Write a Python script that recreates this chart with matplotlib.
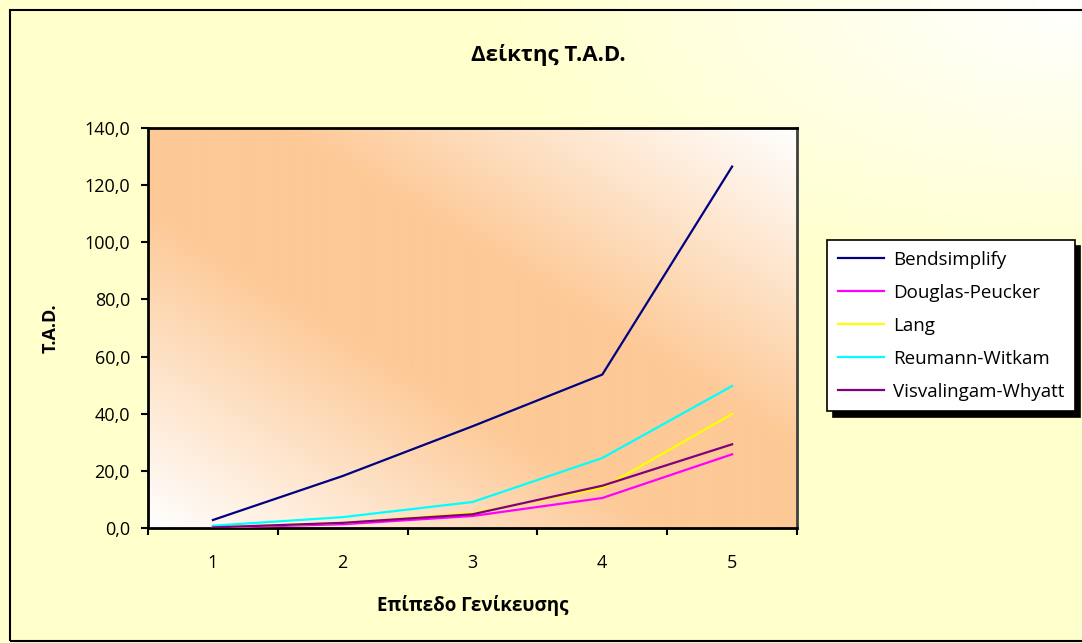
import numpy as np
import matplotlib
matplotlib.use("Agg")
import matplotlib.pyplot as plt
from matplotlib.patches import Rectangle

plt.rcParams['font.family'] = ['Open Sans', 'DejaVu Sans']

# ---- data ----
levels = [1, 2, 3, 4, 5]
bendsimplify = [2.8, 18.2, 35.6, 53.7, 126.5]
douglas_peucker = [0.1, 1.3, 4.2, 10.5, 25.8]
lang = [0.2, 1.8, 5.2, 14.0, 39.9]
reumann_witkam = [0.8, 3.8, 9.1, 24.5, 49.7]
visvalingam_whyatt = [0.2, 1.8, 4.8, 14.8, 29.3]

series_names = ["Bendsimplify", "Douglas-Peucker", "Lang",
                "Reumann-Witkam", "Visvalingam-Whyatt"]
series_values = [bendsimplify, douglas_peucker, lang,
                 reumann_witkam, visvalingam_whyatt]
series_colors = ["#000080", "#FF00FF", "#FFFF00", "#00FFFF", "#800080"]

title = "Δείκτης T.A.D."
xlabel = "Επίπεδο Γενίκευσης"
ylabel = "T.A.D."
yticks = [0, 20, 40, 60, 80, 100, 120, 140]

W, H = 1082, 643
fig = plt.figure(figsize=(W / 100, H / 100), dpi=100)

# ---- outer background gradient ----
bg = fig.add_axes([0, 0, 1, 1], zorder=-10)
bg.set_axis_off()
yy, xx = np.mgrid[0:H:2, 0:W:2]
u = xx / W
vt = yy / H
d = np.sqrt(((1.0 - u) / 0.55) ** 2 + (vt / 0.45) ** 2)
t = np.clip(d, 0, 1)[..., None]
yellow = np.array([255, 255, 204]) / 255.0
white = np.array([1.0, 1.0, 1.0])
img = white * (1 - t) + yellow * t
bg.imshow(img, extent=(0, 1, 0, 1), aspect='auto', origin='upper')
bg.set_xlim(0, 1)
bg.set_ylim(0, 1)
bg.add_patch(Rectangle((10 / W, 2 / H), 1.2, 1 - 12 / H, fill=False,
                       edgecolor='black', linewidth=1.5,
                       transform=bg.transAxes))

# ---- plot area ----
left, right = 148 / W, 797 / W
bottom, top = 1 - 528 / H, 1 - 128 / H
ax = fig.add_axes([left, bottom, right - left, top - bottom])
ax.set_facecolor('none')

gy, gx = np.mgrid[0:1:200j, 0:1:300j]
s = gx + gy
strength = np.clip((1 - np.abs(s - 1)) * 1.25, 0, 1)[..., None]
orange = np.array([253, 201, 150]) / 255.0
pimg = white * (1 - strength) + orange * strength
ax.imshow(pimg, extent=(0, 1, 0, 1), aspect='auto', origin='lower',
          transform=ax.transAxes, zorder=0)

for name, vals, col in zip(series_names, series_values, series_colors):
    ax.plot(levels, vals, color=col, linewidth=1.6, label=name, zorder=3,
            solid_joinstyle='round')

ax.set_xlim(0.5, 5.5)
ax.set_ylim(0, 140)
ax.set_yticks(yticks)
ax.set_yticklabels([f"{v:.1f}".replace('.', ',') for v in yticks])
ax.set_xticks(np.arange(0.5, 6.0, 1.0))
ax.set_xticklabels([])
ax.set_xticks(levels, minor=True)
ax.set_xticklabels([str(v) for v in levels], minor=True)
ax.tick_params(axis='x', which='major', direction='out', length=5, width=1.5)
ax.tick_params(axis='x', which='minor', length=0, pad=19, labelsize=13)
ax.tick_params(axis='y', direction='out', length=5, width=1.5, labelsize=13,
               pad=8)

for sp in ['left', 'bottom', 'top']:
    ax.spines[sp].set_linewidth(2)
    ax.spines[sp].set_color('black')
ax.spines['right'].set_linewidth(2)
ax.spines['right'].set_color('#404040')

ax.set_xlabel(xlabel, fontsize=13.5, fontweight='bold', labelpad=16)
ax.set_ylabel(ylabel, fontsize=13, fontweight='bold', labelpad=18)

fig.text(548 / W, 1 - 55 / H, title, fontsize=16, fontweight='bold',
         ha='center', va='center')

leg = fig.legend(loc='upper left', bbox_to_anchor=(818 / W, 1 - 231 / H),
                 fontsize=13.5, frameon=True, fancybox=False,
                 edgecolor='black', facecolor='white', framealpha=1,
                 handlelength=2.45, labelspacing=0.8, borderpad=0.55,
                 handletextpad=0.5,
                 shadow={'color': 'black', 'alpha': 1.0, 'ox': 4, 'oy': -4})
leg.get_frame().set_linewidth(1.2)

fig.savefig("out.png", dpi=100)
